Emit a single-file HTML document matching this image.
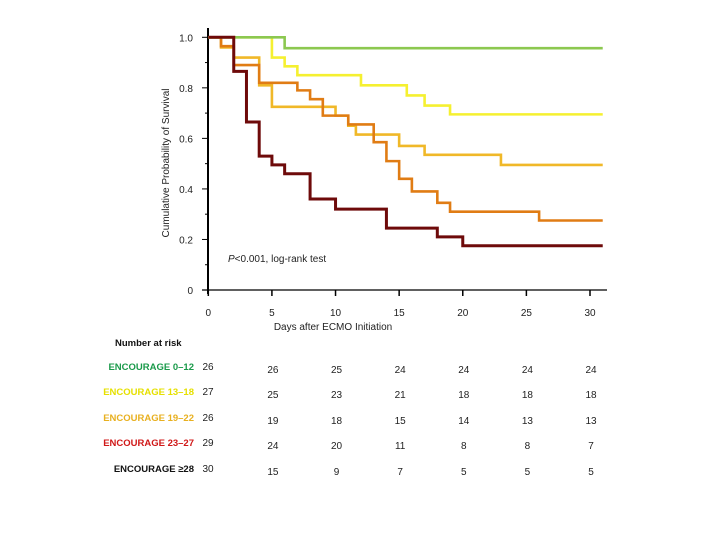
<!DOCTYPE html>
<html><head><meta charset="utf-8"><style>
body{margin:0;background:#fff;}
svg{display:block;font-family:"Liberation Sans",sans-serif;}
</style></head><body>
<svg id="chart" width="720" height="540" viewBox="0 0 720 540">
<g id="axes"></g>
<g id="curves"></g>
<text x="228" y="262" font-size="10" fill="#222"><tspan font-style="italic">P</tspan>&lt;0.001, log-rank test</text>
<text x="333" y="330" font-size="10" fill="#222" text-anchor="middle">Days after ECMO Initiation</text>
<text transform="translate(169,163) rotate(-90)" font-size="10" fill="#222" text-anchor="middle">Cumulative Probability of Survival</text>
<text x="115" y="346" font-size="9.5" font-weight="bold" fill="#111">Number at risk</text>
<g id="risk"></g>
</svg>
<script>
const days=[0,5,10,15,20,25,30];
const yTicks=[0,0.2,0.4,0.6,0.8,1.0];
const yTickLabels=["0","0.2","0.4","0.6","0.8","1.0"];
const groupNames=["ENCOURAGE 0\u201312","ENCOURAGE 13\u201318","ENCOURAGE 19\u201322","ENCOURAGE 23\u201327","ENCOURAGE \u226528"];
const groupColors=["#8cc850","#f5f030","#f0b828","#e07c14","#6e0a0a"];
const labelColors=["#1a9a4a","#e6e000","#e8b020","#d01818","#111"];
const t0=[0,6];
const s0=[1.0,0.957];
const t1=[0,5,6,7,12,15.6,17,19];
const s1=[1.0,0.92,0.885,0.85,0.81,0.77,0.73,0.695];
const t2=[0,1,2,4,5,10,11,11.6,15,17,23];
const s2=[1.0,0.96,0.92,0.81,0.725,0.69,0.65,0.615,0.57,0.535,0.495];
const t3=[0,1,2,4,7,8,9,11,13,14,15,16,18,19,26];
const s3=[1.0,0.965,0.89,0.82,0.79,0.755,0.69,0.655,0.585,0.51,0.44,0.39,0.345,0.31,0.275];
const t4=[0,2,3,4,5,6,8,10,14,18,20];
const s4=[1.0,0.865,0.665,0.53,0.495,0.46,0.36,0.32,0.245,0.21,0.175];
const times=[t0,t1,t2,t3,t4];
const survs=[s0,s1,s2,s3,s4];
const riskStart=[26,27,26,29,30];
const risk0=[26,25,24,24,24,24];
const risk1=[25,23,21,18,18,18];
const risk2=[19,18,15,14,13,13];
const risk3=[24,20,11,8,8,7];
const risk4=[15,9,7,5,5,5];
const risks=[risk0,risk1,risk2,risk3,risk4];
const riskDays=[5,10,15,20,25,30];
const tEnd=31;

const NS="http://www.w3.org/2000/svg";
const X=d=>208.3+d*(590-208.3)/30;
const Y=v=>290-v*(290-37.3);
function mk(tag,attrs,parent){const e=document.createElementNS(NS,tag);for(const k in attrs)e.setAttribute(k,attrs[k]);parent.appendChild(e);return e;}
const axes=document.getElementById('axes');
let a=mk('line',{x1:208,y1:28,x2:208,y2:294,stroke:'#000','stroke-width':2},axes);


a=mk('line',{x1:202,y1:290,x2:607,y2:290,stroke:'#000','stroke-width':1.3},axes);


for(let i=0;i<yTicks.length;i++){
  const y=Y(yTicks[i]);
  let t=mk('line',{x1:202,y1:y,x2:208,y2:y,stroke:'#000','stroke-width':1},axes);
  
  
  let l=mk('text',{x:193,y:y+4,'font-size':10,'text-anchor':'end',fill:'#222'},axes);
  l.textContent=yTickLabels[i];
  
  
  if(i<yTicks.length-1){
    let m=mk('line',{x1:205,y1:Y(yTicks[i]+0.1),x2:208,y2:Y(yTicks[i]+0.1),stroke:'#000','stroke-width':1},axes);
    
    
  }
}
for(const d of days){
  const x=X(d);
  let t=mk('line',{x1:x,y1:290,x2:x,y2:296,stroke:'#000','stroke-width':1.5},axes);
  
  
  let l=mk('text',{x:x,y:316,'font-size':10,'text-anchor':'middle',fill:'#222'},axes);
  l.textContent=String(d);
  
  
}
const curves=document.getElementById('curves');
const drawOrder=[1,2,3,0,4];
for(const g of drawOrder){
  const t=times[g],s=survs[g];
  let d='M'+X(t[0])+','+Y(s[0]);
  for(let i=1;i<t.length;i++){d+=' H'+X(t[i])+' V'+Y(s[i]);}
  d+=' H'+X(tEnd);
  const p=mk('path',{d:d,fill:'none',stroke:groupColors[g],'stroke-width':g===4?3:2.6},curves);
  
  
}
const risk=document.getElementById('risk');
const rowY=[370,395,421,446,472];
for(let g=0;g<groupNames.length;g++){
  let l=mk('text',{x:194,y:rowY[g],'font-size':9.5,'font-weight':'bold','text-anchor':'end',fill:labelColors[g]},risk);
  l.textContent=groupNames[g];
  
  
  let n=mk('text',{x:208,y:rowY[g],'font-size':10,'text-anchor':'middle',fill:'#222'},risk);
  n.textContent=String(riskStart[g]);
  
  
  for(let i=0;i<riskDays.length;i++){
    let c=mk('text',{x:X(riskDays[i])+1,y:rowY[g]+3,'font-size':10,'text-anchor':'middle',fill:'#222'},risk);
    c.textContent=String(risks[g][i]);
    
    
  }
}
</script>
</body></html>
